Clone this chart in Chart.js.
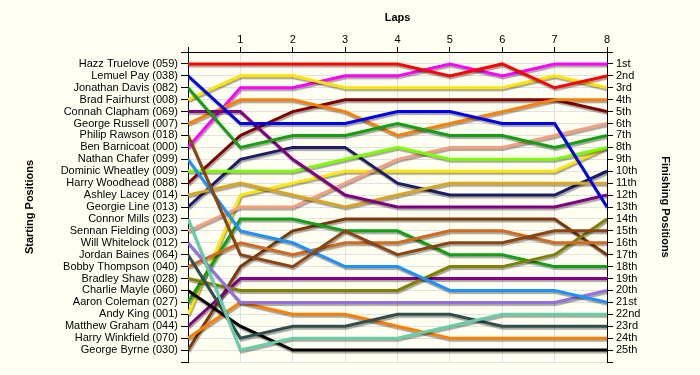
<!DOCTYPE html>
<html>
<head>
<meta charset="utf-8">
<script src="https://cdn.jsdelivr.net/npm/chart.js@4.4.1/dist/chart.umd.min.js"></script>
<style>
  html, body { margin: 0; padding: 0; background: #fffff2; }
  #wrap { width: 700px; height: 375px; position: relative; }
</style>
</head>
<body>
<div id="wrap"><canvas id="c" width="700" height="375"></canvas></div>
<script>
// ---- data ----
const laps = [0, 1, 2, 3, 4, 5, 6, 7, 8];
const lapLabels = ['', '1', '2', '3', '4', '5', '6', '7', '8'];
const startNames = [
  'Hazz Truelove (059)', 'Lemuel Pay (038)', 'Jonathan Davis (082)', 'Brad Fairhurst (008)',
  'Connah Clapham (069)', 'George Russell (007)', 'Philip Rawson (018)', 'Ben Barnicoat (000)',
  'Nathan Chafer (099)', 'Dominic Wheatley (009)', 'Harry Woodhead (088)', 'Ashley Lacey (014)',
  'Georgie Line (013)', 'Connor Mills (023)', 'Sennan Fielding (003)', 'Will Whitelock (012)',
  'Jordan Baines (064)', 'Bobby Thompson (040)', 'Bradley Shaw (028)', 'Charlie Mayle (060)',
  'Aaron Coleman (027)', 'Andy King (001)', 'Matthew Graham (044)', 'Harry Winkfield (070)',
  'George Byrne (030)'
];
const finishLabels = ['1st','2nd','3rd','4th','5th','6th','7th','8th','9th','10th','11th','12th','13th',
  '14th','15th','16th','17th','18th','19th','20th','21st','22nd','23rd','24th','25th'];

const hazzTruelove    = [1, 1, 1, 1, 1, 2, 1, 3, 2];
const lemuelPay       = [2, 6, 6, 6, 5, 5, 6, 6, 13];
const jonathanDavis   = [3, 8, 7, 7, 6, 7, 7, 8, 7];
const bradFairhurst   = [4, 2, 2, 3, 3, 3, 3, 2, 3];
const connahClapham   = [5, 5, 9, 12, 13, 13, 13, 13, 12];
const georgeRussell   = [6, 4, 4, 5, 7, 6, 5, 4, 4];
const philipRawson    = [7, 17, 18, 15, 17, 16, 16, 15, 15];
const benBarnicoat    = [8, 3, 3, 2, 2, 1, 2, 1, 1];
const nathanChafer    = [9, 15, 16, 18, 18, 20, 20, 20, 21];
const dominicWheatley = [10, 10, 10, 9, 8, 9, 9, 9, 8];
const harryWoodhead   = [11, 7, 5, 4, 4, 4, 4, 4, 5];
const ashleyLacey     = [12, 11, 12, 13, 12, 11, 11, 11, 11];
const georgieLine     = [13, 9, 8, 8, 11, 12, 12, 12, 10];
const connorMills     = [14, 25, 24, 24, 24, 23, 22, 22, 22];
const sennanFielding  = [15, 13, 13, 11, 9, 8, 8, 7, 6];
const willWhitelock   = [16, 21, 21, 21, 21, 21, 21, 21, 20];
const jordanBaines    = [17, 24, 23, 23, 22, 22, 23, 23, 23];
const bobbyThompson   = [18, 16, 17, 16, 16, 15, 15, 16, 16];
const bradleyShaw     = [19, 20, 20, 20, 20, 18, 18, 17, 14];
const charlieMayle    = [20, 23, 25, 25, 25, 25, 25, 25, 25];
const aaronColeman    = [21, 14, 14, 15, 15, 17, 17, 18, 18];
const andyKing        = [22, 12, 11, 10, 10, 10, 10, 10, 8];
const matthewGraham   = [23, 19, 19, 19, 19, 19, 19, 19, 19];
const harryWinkfield  = [24, 21, 22, 22, 23, 24, 24, 24, 24];
const georgeByrne     = [25, 18, 15, 14, 14, 14, 14, 14, 17];

const seriesValues = [hazzTruelove, lemuelPay, jonathanDavis, bradFairhurst, connahClapham,
  georgeRussell, philipRawson, benBarnicoat, nathanChafer, dominicWheatley, harryWoodhead,
  ashleyLacey, georgieLine, connorMills, sennanFielding, willWhitelock, jordanBaines,
  bobbyThompson, bradleyShaw, charlieMayle, aaronColeman, andyKing, matthewGraham,
  harryWinkfield, georgeByrne];

const seriesColors = ['#ff0000', '#0000ee', '#12a012', '#ffe400', '#800080', '#ff8000', '#8b4513',
  '#ff00ff', '#1e90ff', '#7cfc00', '#800000', '#daa520', '#1c1c6c', '#66cdaa', '#f4a080',
  '#9370db', '#2f4f4f', '#d2691e', '#808000', '#000000', '#12a012', '#ffe800', '#800080',
  '#ff8000', '#7a3a08'];

// ---- chart ----
const FONT = { family: '"Liberation Sans", Arial, sans-serif', size: 11 };
const BOLD = { family: '"Liberation Sans", Arial, sans-serif', size: 11, weight: 'bold' };

const shadowPlugin = {
  id: 'lineShadow',
  beforeDatasetDraw(chart) {
    const ctx = chart.ctx;
    ctx.save();
    ctx.shadowColor = 'rgba(0,0,0,0.35)';
    ctx.shadowOffsetX = 1;
    ctx.shadowOffsetY = 2;
    ctx.shadowBlur = 1;
  },
  afterDatasetDraw(chart) {
    chart.ctx.restore();
  }
};

const datasets = seriesValues.map((vals, i) => ({
  label: startNames[i],
  data: vals.map((v, j) => ({ x: laps[j], y: v })),
  borderColor: seriesColors[i],
  backgroundColor: seriesColors[i],
  borderWidth: 3,
  pointRadius: 0,
  tension: 0,
  fill: false,
  yAxisID: 'y'
}));

new Chart(document.getElementById('c'), {
  type: 'line',
  data: { datasets },
  plugins: [shadowPlugin],
  options: {
    responsive: false,
    animation: false,
    events: [],
    layout: { padding: { left: 19, right: 24, top: 7, bottom: 13 } },
    plugins: { legend: { display: false }, tooltip: { enabled: false }, title: { display: false } },
    scales: {
      x: {
        type: 'linear',
        position: 'top',
        min: 0, max: 8,
        afterBuildTicks(scale) { scale.ticks = laps.map(v => ({ value: v })); },
        afterFit(scale) { scale.height = 45; },
        ticks: {
          color: '#000', font: FONT, padding: 0, maxRotation: 0,
          callback: (v) => lapLabels[v] ?? ''
        },
        grid: { color: '#e2e2e2', lineWidth: 1, tickColor: '#000', tickLength: 5 },
        border: { color: '#000', width: 1 },
        title: { display: true, text: 'Laps', color: '#000', font: BOLD }
      },
      y: {
        type: 'linear',
        position: 'left',
        min: 0, max: 26,
        reverse: true,
        afterBuildTicks(scale) {
          const t = [];
          for (let i = 0; i <= 26; i++) t.push({ value: i });
          scale.ticks = t;
        },
        afterFit(scale) { scale.width = 169; },
        ticks: {
          color: '#000', font: FONT, padding: 3, autoSkip: false,
          callback: (v) => startNames[v - 1] ?? ''
        },
        grid: { color: '#e2e2e2', lineWidth: 1, tickColor: '#000', tickLength: 7 },
        border: { color: '#000', width: 1 },
        title: { display: true, text: 'Starting Positions', color: '#000', font: BOLD }
      },
      y2: {
        type: 'linear',
        position: 'right',
        min: 0, max: 26,
        reverse: true,
        afterBuildTicks(scale) {
          const t = [];
          for (let i = 0; i <= 26; i++) t.push({ value: i });
          scale.ticks = t;
        },
        afterFit(scale) { scale.width = 69; },
        ticks: {
          color: '#000', font: FONT, padding: 3, autoSkip: false,
          callback: (v) => finishLabels[v - 1] ?? ''
        },
        grid: { drawOnChartArea: false, tickColor: '#000', tickLength: 6 },
        border: { color: '#000', width: 1 },
        title: { display: true, text: 'Finishing Positions', color: '#000', font: BOLD }
      }
    }
  }
});
</script>
</body>
</html>
